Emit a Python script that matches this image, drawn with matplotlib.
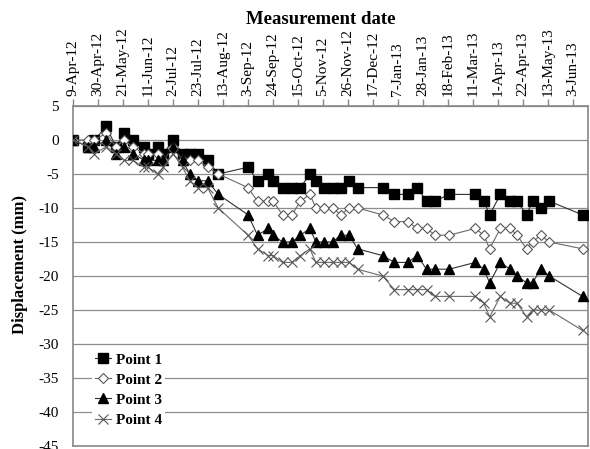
import matplotlib
matplotlib.use("Agg")
import matplotlib.pyplot as plt
import matplotlib.dates as mdates
import numpy as np
import datetime as dt

# ---- data ----
dates = ["2012-04-09", "2012-04-22", "2012-04-27", "2012-05-07", "2012-05-15",
         "2012-05-22", "2012-05-29", "2012-06-08", "2012-06-11", "2012-06-19",
         "2012-06-24", "2012-07-02", "2012-07-10", "2012-07-16", "2012-07-23",
         "2012-07-31", "2012-08-09", "2012-09-03", "2012-09-11", "2012-09-20",
         "2012-09-24", "2012-10-02", "2012-10-10", "2012-10-17", "2012-10-25",
         "2012-10-30", "2012-11-06", "2012-11-13", "2012-11-20", "2012-11-27",
         "2012-12-04", "2012-12-25", "2013-01-04", "2013-01-15", "2013-01-23",
         "2013-01-31", "2013-02-07", "2013-02-19", "2013-03-13", "2013-03-20",
         "2013-03-25", "2013-04-03", "2013-04-11", "2013-04-17", "2013-04-25",
         "2013-04-30", "2013-05-07", "2013-05-14", "2013-06-11"]

point1 = [0, -1, 0, 2, -1, 1, 0, -1, -2, -1, -2, 0, -2, -2, -2, -3, -5, -4, -6, -5,
          -6, -7, -7, -7, -5, -6, -7, -7, -7, -6, -7, -7, -8, -8, -7, -9, -9, -8, -8, -9,
          -11, -8, -9, -9, -11, -9, -10, -9, -11]
point2 = [0, 0, 0, 1, -1, 0, -1, -2, -2, -2, -3, -1, -3, -3, -3, -4, -5, -7, -9, -9,
          -9, -11, -11, -9, -8, -10, -10, -10, -11, -10, -10, -11, -12, -12, -13, -13, -14, -14, -13, -14,
          -16, -13, -13, -14, -16, -15, -14, -15, -16]
point3 = [0, -1, -1, 0, -2, -1, -2, -3, -3, -3, -3, -1, -3, -5, -6, -6, -8, -11, -14, -13,
          -14, -15, -15, -14, -13, -15, -15, -15, -14, -14, -16, -17, -18, -18, -17, -19, -19, -19, -18, -19,
          -21, -18, -19, -20, -21, -21, -19, -20, -23]
point4 = [0, -1, -2, -1, -2, -3, -3, -4, -4, -5, -4, -2, -4, -6, -7, -7, -10, -14, -16, -17,
          -17, -18, -18, -17, -16, -18, -18, -18, -18, -18, -19, -20, -22, -22, -22, -22, -23, -23, -23, -24,
          -26, -23, -24, -24, -26, -25, -25, -25, -28]

series_names = ["Point 1", "Point 2", "Point 3", "Point 4"]
tick_start = "2012-04-09"
tick_count = 21
tick_step_days = 21
y_ticks = [5, 0, -5, -10, -15, -20, -25, -30, -35, -40, -45]

# ---- plot ----
plt.rcParams['font.family'] = ['Liberation Serif', 'DejaVu Serif']

fig = plt.figure(figsize=(5.9, 4.49), dpi=100)
ax = fig.add_axes([73/590, 3/449, 515/590, 340/449])

x = [dt.datetime.strptime(d, "%Y-%m-%d") for d in dates]

styles = [
    dict(marker='s', ms=6.8, mfc='black', mec='black', color='#303030', lw=0.8),
    dict(marker='D', ms=5.2, mfc='white', mec='#555555', mew=0.8, color='#6a6a6a', lw=0.8),
    dict(marker='^', ms=7.2, mfc='black', mec='black', color='#303030', lw=0.8),
    dict(marker='x', ms=7.5, mec='#555555', mew=0.8, color='#6a6a6a', lw=0.8),
]
for vals, name, st in zip([point1, point2, point3, point4], series_names, styles):
    ax.plot(x, vals, label=name, **st, zorder=3)

start = dt.datetime.strptime(tick_start, "%Y-%m-%d")
ticks = [start + dt.timedelta(days=tick_step_days * k) for k in range(tick_count)]
ax.set_xticks(ticks)
ax.set_xticklabels([f"{t.day}-{t.strftime('%b-%y')}" for t in ticks], rotation=90, fontsize=11)
ax.set_xlim(start, start + dt.timedelta(days=432.6))
ax.xaxis.tick_top()
ax.tick_params(axis='x', direction='out', length=5, width=1, color='#888888', pad=2)

ax.set_ylim(-45, 5)
ax.set_yticks(y_ticks)
ax.set_yticklabels([str(v) for v in y_ticks], fontsize=11)
ax.tick_params(axis='y', length=0, pad=10)
ax.yaxis.grid(True, color='#8c8c8c', lw=0.9, zorder=0)
ax.set_axisbelow(True)

for s in ['left', 'top', 'right', 'bottom']:
    ax.spines[s].set_color('#888888')
    ax.spines[s].set_linewidth(1.2)

fig.text(321/590, 1 - 19/449, "Measurement date", ha='center', va='center',
         fontsize=13.5, fontweight='bold')
fig.text(20/590, 1 - 264/449, "Displacement (mm)", ha='center', va='center',
         rotation=90, fontsize=12, fontweight='bold')

leg = ax.legend(loc='center left', bbox_to_anchor=(0.036, 0.165), frameon=True,
                fancybox=False, edgecolor='none', facecolor='white', framealpha=1,
                prop={'weight': 'bold', 'size': 11}, handlelength=1.1,
                handletextpad=0.3, labelspacing=0.42, borderpad=0.2, borderaxespad=0)

fig.savefig("out.png", dpi=100)
